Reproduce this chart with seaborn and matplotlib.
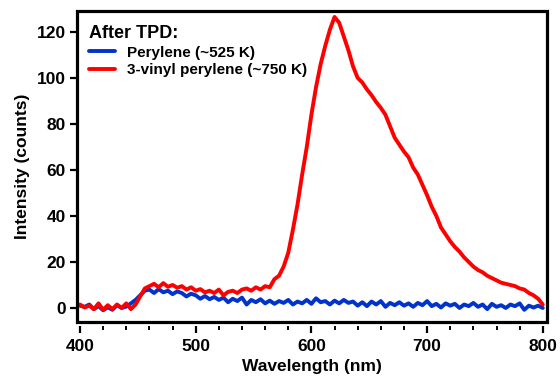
import numpy as np
import pandas as pd
import matplotlib
matplotlib.use("Agg")
import matplotlib.pyplot as plt
from matplotlib.patches import Rectangle
import seaborn as sns

# wavelength grid (nm), read every 4 nm off the picture
wavelength = np.arange(400, 801, 4)

perylene = [
    1.0, 0.5, 1.5, -0.5, 0.8, -1.0, 0.3, -0.8, 1.2, 0.0,
    0.6, 2.0, 3.5, 5.5, 7.5, 8.0, 6.5, 8.2, 6.8, 7.5,
    6.0, 7.2, 6.5, 5.0, 6.2, 5.5, 4.0, 5.2, 3.8, 4.8,
    3.5, 4.5, 2.5, 4.0, 3.0, 4.5, 1.5, 3.5, 2.5, 3.8,
    2.0, 3.2, 1.8, 3.0, 2.2, 3.5, 1.5, 2.8, 2.0, 3.5,
    1.8, 4.2, 2.5, 3.0, 1.5, 3.2, 2.0, 3.5, 2.2, 2.8,
    1.0, 2.5, 0.8, 2.8, 1.5, 3.0, 0.5, 2.2, 1.2, 2.5,
    1.0, 2.0, 0.5, 2.2, 1.2, 3.0, 0.8, 1.8, 0.2, 2.0,
    1.0, 1.8, 0.0, 1.5, 0.8, 2.2, 0.5, 1.5, -0.5, 1.8,
    0.5, 1.2, 0.0, 1.5, 0.8, 2.0, -0.8, 1.0, 0.2, 1.0,
    0.0,
]

vinyl_perylene = [
    1.5, 0.2, 1.0, -0.5, 2.0, -0.8, 1.2, -0.5, 1.5, 0.0,
    2.0, -0.5, 1.5, 5.0, 8.5, 9.5, 10.5, 9.0, 10.8, 9.2,
    10.0, 8.8, 9.5, 8.0, 9.0, 7.5, 8.2, 6.8, 7.5, 6.5,
    8.0, 5.5, 7.0, 7.5, 6.5, 8.0, 8.5, 7.5, 9.0, 8.0,
    9.5, 9.0, 12.5, 14.0, 18.0, 24.0, 34.0, 45.0, 58.0, 70.0,
    84.0, 96.0, 106.0, 114.0, 121.0, 126.5, 124.0, 118.0, 112.0, 105.0,
    100.0, 98.0, 95.0, 92.5, 89.5, 87.0, 84.0, 79.0, 74.0, 71.0,
    68.0, 65.5, 61.0, 58.0, 53.5, 49.0, 44.0, 40.0, 35.0, 32.0,
    29.0, 26.5, 24.5, 22.0, 20.0, 18.0, 16.5, 15.5, 14.0, 13.0,
    12.0, 11.0, 10.5, 10.0, 9.5, 8.5, 8.0, 6.5, 5.5, 4.0,
    1.5,
]

labels = ["Perylene (~525 K)", "3-vinyl perylene (~750 K)"]
colors = ["#0033CC", "#FF0000"]

df = pd.concat([
    pd.DataFrame({"wavelength": wavelength, "intensity": perylene, "sample": labels[0]}),
    pd.DataFrame({"wavelength": wavelength, "intensity": vinyl_perylene, "sample": labels[1]}),
])

sns.set_style("ticks")
plt.rcParams["font.family"] = ["Liberation Sans", "DejaVu Sans"]
plt.rcParams["font.weight"] = "bold"
for k in ["text.color", "axes.labelcolor", "xtick.color", "ytick.color"]:
    plt.rcParams[k] = "black"

fig = plt.figure(figsize=(5.6, 3.76), dpi=100)
ax = fig.add_axes([0.1375, 0.1436, 0.839, 0.8272])

sns.lineplot(data=df, x="wavelength", y="intensity", hue="sample",
             hue_order=labels, palette=colors, estimator=None,
             linewidth=2.8, ax=ax)

ax.set_xlim(397.4, 803.5)
ax.set_ylim(-6.1, 129.1)
ax.set_xticks([400, 500, 600, 700, 800])
ax.set_xticks(np.arange(420, 800, 20), minor=True)
ax.set_yticks([0, 20, 40, 60, 80, 100, 120])

ax.set_xlabel("Wavelength (nm)", fontsize=12.5, fontweight="bold", labelpad=4)
ax.set_ylabel("Intensity (counts)", fontsize=12.5, fontweight="bold", labelpad=5)

for s in ax.spines.values():
    s.set_visible(False)
ax.spines["bottom"].set_position(("outward", 3))
ax.add_patch(Rectangle((0, 0), 1, 1, transform=ax.transAxes, fill=False,
                       edgecolor="black", linewidth=2.3, clip_on=False, zorder=5))

ax.tick_params(axis="both", which="major", width=1.6, length=5, labelsize=12.5,
               direction="out", color="black", pad=3)
ax.tick_params(axis="x", which="minor", width=1.4, length=3, direction="out")
ax.tick_params(axis="x", which="major", pad=4)
for t in ax.get_xticklabels() + ax.get_yticklabels():
    t.set_fontweight("bold")

leg = ax.legend(title="After TPD:", loc="upper left", frameon=False,
                bbox_to_anchor=(0.002, 0.99), prop={"weight": "bold", "size": 11},
                title_fontproperties={"weight": "bold", "size": 13},
                alignment="left", handlelength=1.7, handletextpad=0.8,
                labelspacing=0.25, borderaxespad=0.3)
for line in leg.get_lines():
    line.set_linewidth(2.8)

fig.savefig("out.png", dpi=100)
